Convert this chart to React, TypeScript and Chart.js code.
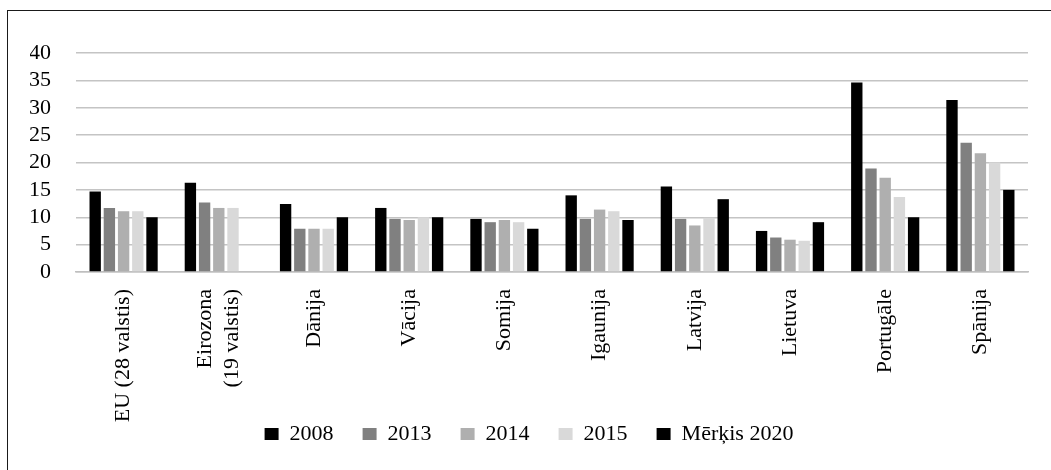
import React, { useEffect, useRef } from 'react';
import { Chart, registerables } from 'chart.js';

Chart.register(...registerables);

const FONT = "'Liberation Serif', 'Times New Roman', serif";

const categories: (string | string[])[] = [
  'EU (28 valstis)',
  ['Eirozona', '(19 valstis)'],
  'Dānija',
  'Vācija',
  'Somija',
  'Igaunija',
  'Latvija',
  'Lietuva',
  'Portugāle',
  'Spānija',
];

const seriesNames = ['2008', '2013', '2014', '2015', 'Mērķis 2020'];

const values2008 = [14.7, 16.3, 12.4, 11.7, 9.7, 14.0, 15.6, 7.5, 34.6, 31.4];
const values2013 = [11.7, 12.7, 7.9, 9.7, 9.1, 9.7, 9.7, 6.3, 18.9, 23.6];
const values2014 = [11.1, 11.7, 7.9, 9.5, 9.5, 11.4, 8.5, 5.9, 17.2, 21.7];
const values2015 = [11.1, 11.7, 7.9, 10.0, 9.1, 11.1, 9.9, 5.7, 13.7, 20.0];
const valuesTarget = [10, null, 10, 10, 7.9, 9.5, 13.3, 9.1, 10, 15];

const seriesColors = ['#000000', '#808080', '#afafaf', '#d9d9d9', '#000000'];

const yMin = 0;
const yMax = 40;
const yStep = 5;

const FONT_SIZE = 22;
const LINE_HEIGHT = 1.25;

export default function App() {
  const ref = useRef<HTMLCanvasElement>(null);

  useEffect(() => {
    if (!ref.current) return;
    const allValues = [values2008, values2013, values2014, values2015, valuesTarget];
    const chart = new Chart(ref.current, {
      type: 'bar',
      data: {
        labels: categories,
        datasets: seriesNames.map((name, i) => ({
          label: name,
          data: allValues[i],
          backgroundColor: seriesColors[i],
          borderWidth: 0,
          categoryPercentage: 0.746,
          barPercentage: 0.8,
        })),
      },
      options: {
        animation: false,
        responsive: true,
        maintainAspectRatio: false,
        color: '#000',
        layout: { padding: { top: 42, right: 23, left: 22, bottom: 0 } },
        plugins: {
          legend: {
            position: 'bottom',
            labels: {
              boxWidth: 14,
              boxHeight: 12,
              padding: 29,
              color: '#000',
              font: { family: FONT, size: FONT_SIZE },
            },
          },
          tooltip: { enabled: false },
        },
        scales: {
          x: {
            grid: { display: false, drawTicks: false },
            border: { display: true, color: '#bfbfbf', width: 1.5 },
            ticks: {
              maxRotation: 90,
              minRotation: 90,
              autoSkip: false,
              padding: 17,
              color: '#000',
              font: { family: FONT, size: FONT_SIZE, lineHeight: LINE_HEIGHT },
            },
            afterFit: (s: any) => {
              s.height = 122;
              if (!s.__patched) {
                s.__patched = true;
                // let rotated labels run past the scale box
                s._computeLabelArea = () => undefined;
                // centre multi-line rotated labels on their category
                const orig = s._computeLabelItems.bind(s);
                s._computeLabelItems = (area: any) => {
                  const items = orig(area);
                  const lh = FONT_SIZE * LINE_HEIGHT;
                  items.forEach((it: any) => {
                    if (Array.isArray(it.label) && it.label.length > 1) {
                      it.options.translation[0] -= ((it.label.length - 1) * lh) / 2;
                    }
                  });
                  return items;
                };
              }
            },
          },
          y: {
            min: yMin,
            max: yMax,
            ticks: {
              stepSize: yStep,
              autoSkip: false,
              padding: 25,
              color: '#000',
              font: { family: FONT, size: FONT_SIZE },
            },
            grid: { color: '#c4c4c4', lineWidth: 1.5, drawTicks: false },
            border: { display: false },
            afterFit: (s: any) => {
              s.width = 46;
            },
          },
        },
      },
    });
    return () => chart.destroy();
  }, []);

  return (
    <div
      style={{
        position: 'fixed',
        left: 7,
        top: 10,
        width: 1100,
        height: 520,
        borderLeft: '1px solid #1a1a1a',
        borderTop: '1px solid #1a1a1a',
        overflow: 'hidden',
        background: '#fff',
      }}
    >
      <div style={{ position: 'relative', width: 1043, height: 444 }}>
        <canvas ref={ref} />
      </div>
    </div>
  );
}
